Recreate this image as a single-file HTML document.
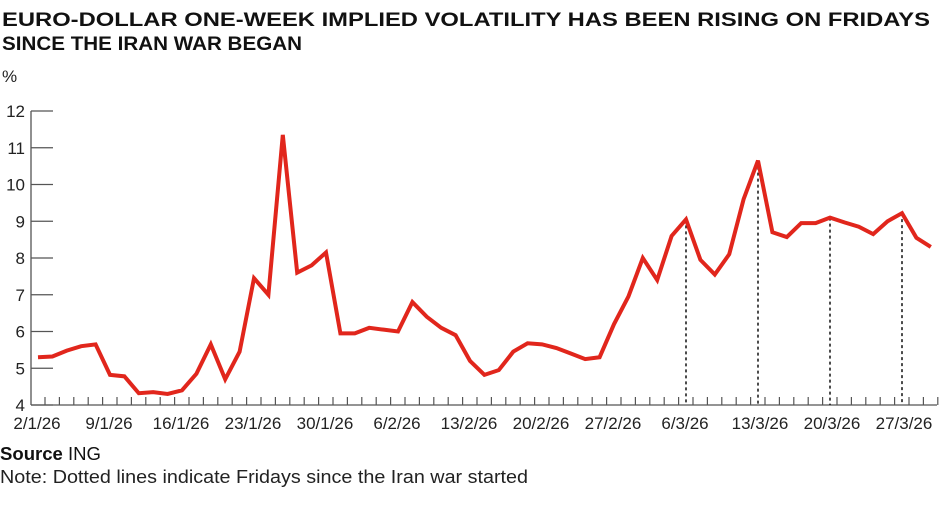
<!DOCTYPE html>
<html><head><meta charset="utf-8"><style>
body{margin:0;background:#fff;width:950px;height:509px;overflow:hidden;font-family:"Liberation Sans",sans-serif;}
</style></head><body>
<svg width="950" height="509" viewBox="0 0 950 509" xmlns="http://www.w3.org/2000/svg" font-family="Liberation Sans, sans-serif">
<text x="2" y="26" font-size="19" font-weight="bold" fill="#111" textLength="928" lengthAdjust="spacingAndGlyphs">EURO-DOLLAR ONE-WEEK IMPLIED VOLATILITY HAS BEEN RISING ON FRIDAYS</text>
<text x="2" y="50" font-size="19" font-weight="bold" fill="#111" textLength="300" lengthAdjust="spacingAndGlyphs">SINCE THE IRAN WAR BEGAN</text>
<text x="2" y="82" font-size="17" fill="#222">%</text>
<g id="y"></g><g id="x"></g><g id="d"></g>
<text x="0" y="460" font-size="18" fill="#111" textLength="101" lengthAdjust="spacingAndGlyphs"><tspan font-weight="bold">Source</tspan> ING</text>
<text x="0" y="483" font-size="18" fill="#222" textLength="528" lengthAdjust="spacingAndGlyphs">Note: Dotted lines indicate Fridays since the Iran war started</text>
</svg>
<script>
const ns="http://www.w3.org/2000/svg";
function el(t,a,p,txt){const e=document.createElementNS(ns,t);for(const k in a)e.setAttribute(k,a[k]);if(txt!==undefined)e.textContent=txt;document.getElementById(p).appendChild(e);}
const Y=v=>405-(v-4)*36.75;
el('line',{x1:31,y1:Y(12),x2:31,y2:405,stroke:'#555','stroke-width':1.3},'y');
for(let v=4;v<=12;v++){el('line',{x1:31,y1:Y(v),x2:53,y2:Y(v),stroke:'#555','stroke-width':1.3},'y');
el('text',{x:25,y:Y(v)+6,'font-size':17,'text-anchor':'end',fill:'#222'},'y',String(v));}
el('line',{x1:31,y1:405,x2:937,y2:405,stroke:'#555','stroke-width':1.3},'x');
for(let k=0;k<=62;k++){const x=45+14.4*k;if(x>938)break;el('line',{x1:x,y1:397,x2:x,y2:405,stroke:'#555','stroke-width':1.2},'x');}
const labs=["2/1/26","9/1/26","16/1/26","23/1/26","30/1/26","6/2/26","13/2/26","20/2/26","27/2/26","6/3/26","13/3/26","20/3/26","27/3/26"];
labs.forEach((l,i)=>el('text',{x:45+72*i-8+(i>=10?3:0),y:429,'font-size':17,'text-anchor':'middle',fill:'#222'},'x',l));
const v=[5.3,5.32,5.48,5.6,5.65,4.82,4.78,4.32,4.35,4.3,4.4,4.85,5.65,4.7,5.45,7.45,7.0,11.35,7.6,7.8,8.15,5.95,5.95,6.1,6.05,6.0,6.8,6.4,6.1,5.9,5.2,4.82,4.95,5.45,5.68,5.65,5.55,5.4,5.25,5.3,6.2,6.95,8.0,7.4,8.6,9.05,7.95,7.55,8.1,9.6,10.65,8.7,8.57,8.95,8.95,9.1,8.97,8.85,8.65,9.0,9.22,8.55,8.3];
const X=i=>38+14.4*i;
[45,50,55,60].forEach(i=>el('line',{x1:X(i),y1:Y(v[i]),x2:X(i),y2:405,stroke:'#111','stroke-width':1.5,'stroke-dasharray':'3,3'},'d'));
el('polyline',{points:v.map((a,i)=>X(i)+','+Y(a)).join(' '),fill:'none',stroke:'#e1261c','stroke-width':4,'stroke-linejoin':'miter','stroke-miterlimit':3},'d');
</script>
</body></html>
